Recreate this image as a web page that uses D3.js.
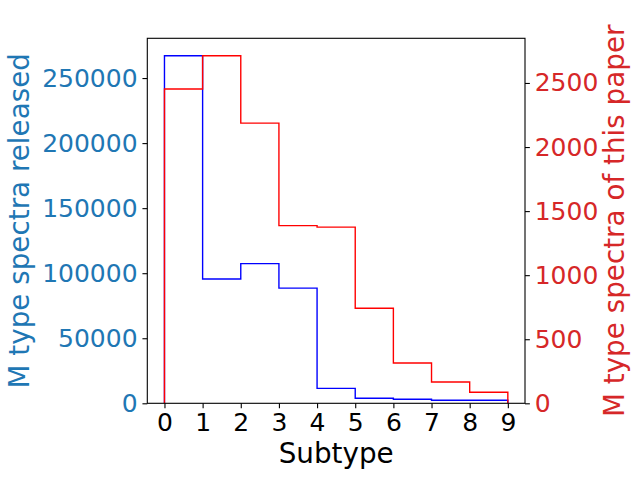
<!DOCTYPE html>
<html><head><meta charset="utf-8">
<script src="https://cdn.jsdelivr.net/npm/d3@7"></script>
<style>body{margin:0;background:#fff}svg{display:block}text{font-family:"DejaVu Sans",sans-serif}</style>
</head><body>
<script>
const binEdges = [0,1,2,3,4,5,6,7,8,9];
const xTicks = [0,1,2,3,4,5,6,7,8,9];
const releasedCounts = [267200, 95600, 107400, 88500, 11500, 3900, 3100, 2400, 2300];
const paperCounts = [2453, 2713, 2187, 1387, 1375, 742, 315, 166, 86];
const leftTicks = [0,50000,100000,150000,200000,250000];
const rightTicks = [0,500,1000,1500,2000,2500];

const W=640,H=480;
const L=147.3,R=525,T=38.3,B=403.3;
const svg=d3.select("body").append("svg").attr("width",W).attr("height",H);

const x=d3.scaleLinear().domain([-0.45,9.45]).range([L,R]);
const yL=d3.scaleLinear().domain([0,d3.max(releasedCounts)*1.05]).range([B,T]);
const yR=d3.scaleLinear().domain([0,d3.max(paperCounts)*1.05]).range([B,T]);

svg.append("defs").append("clipPath").attr("id","clip").append("rect")
 .attr("x",L).attr("y",T).attr("width",R-L).attr("height",B-T);

function stepPts(vals){
  const pts=[[binEdges[0],0]];
  vals.forEach((v,i)=>{pts.push([binEdges[i],v]);pts.push([i+1<binEdges.length?binEdges[i+1]:binEdges[i]+1,v]);});
  pts.push([pts[pts.length-1][0],0]);
  return pts;
}
const g=svg.append("g").attr("clip-path","url(#clip)");
g.append("path").datum(stepPts(releasedCounts))
 .attr("d",d3.line().x(d=>x(d[0])).y(d=>yL(d[1])))
 .attr("fill","none").attr("stroke","#0000ff").attr("stroke-width",1.4).attr("stroke-linejoin","miter");
g.append("path").datum(stepPts(paperCounts))
 .attr("d",d3.line().x(d=>x(d[0])).y(d=>yR(d[1])))
 .attr("fill","none").attr("stroke","#ff0000").attr("stroke-width",1.4).attr("stroke-linejoin","miter");

const tickFont=25, labFont=27.8, tl=4.86, pad=4.86;
// spines
svg.append("rect").attr("x",L).attr("y",T).attr("width",R-L).attr("height",B-T)
 .attr("fill","none").attr("stroke","#000").attr("stroke-width",1.1);

const xa=svg.append("g").attr("transform",`translate(0,${B})`)
 .call(d3.axisBottom(x).tickValues(xTicks).tickSize(tl).tickPadding(pad).tickFormat(d3.format("d")));
xa.select(".domain").remove();
xa.selectAll("line").attr("stroke","#000").attr("stroke-width",1.1);
xa.selectAll("text").attr("font-size",tickFont).attr("fill","#000").attr("font-family","DejaVu Sans");

const la=svg.append("g").attr("transform",`translate(${L},0)`)
 .call(d3.axisLeft(yL).tickValues(leftTicks).tickSize(tl).tickPadding(pad).tickFormat(d3.format("d")));
la.select(".domain").remove();
la.selectAll("line").attr("stroke","#000").attr("stroke-width",1.1);
la.selectAll("text").attr("font-size",tickFont).attr("fill","#1f77b4").attr("font-family","DejaVu Sans");

const ra=svg.append("g").attr("transform",`translate(${R},0)`)
 .call(d3.axisRight(yR).tickValues(rightTicks).tickSize(tl).tickPadding(pad).tickFormat(d3.format("d")));
ra.select(".domain").remove();
ra.selectAll("line").attr("stroke","#000").attr("stroke-width",1.1);
ra.selectAll("text").attr("font-size",tickFont).attr("fill","#d62728").attr("font-family","DejaVu Sans");

svg.append("text").attr("x",(L+R)/2).attr("y",463).attr("text-anchor","middle")
 .attr("font-size",labFont).attr("fill","#000").text("Subtype");
svg.append("text").attr("transform",`translate(29,${(T+B)/2}) rotate(-90)`).attr("text-anchor","middle")
 .attr("font-size",labFont).attr("fill","#1f77b4").text("M type spectra released");
svg.append("text").attr("transform",`translate(624,${(T+B)/2}) rotate(-90)`).attr("text-anchor","middle")
 .attr("font-size",labFont).attr("fill","#d62728").text("M type spectra of this paper");
</script>
</body></html>
